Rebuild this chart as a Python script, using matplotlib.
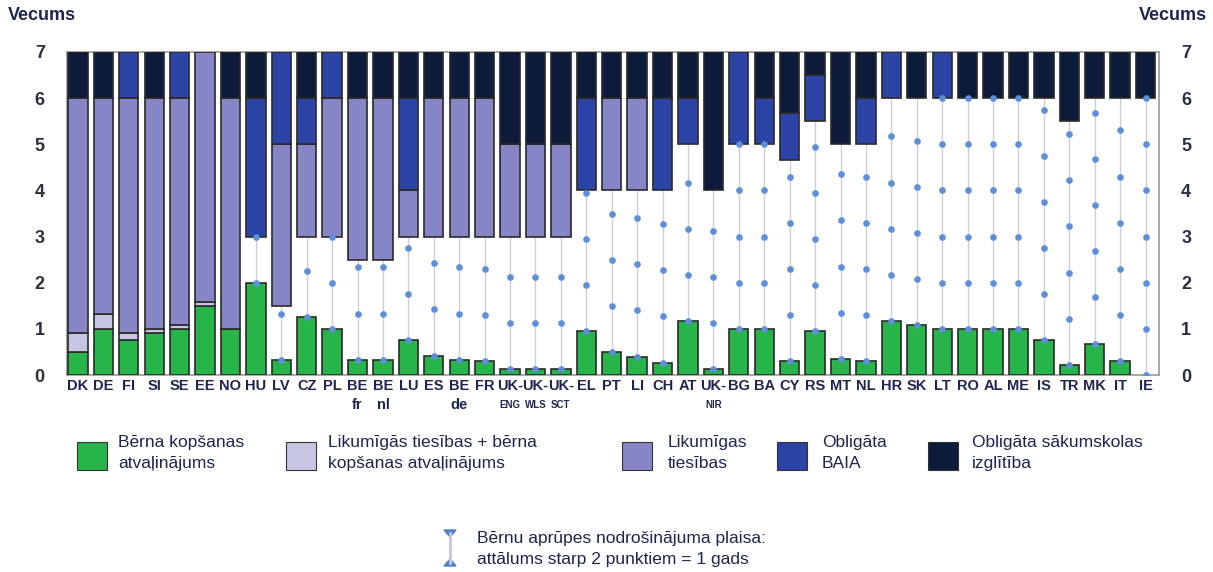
import matplotlib
matplotlib.use("Agg")
import matplotlib.pyplot as plt
from matplotlib.patches import Rectangle, Polygon
from matplotlib.lines import Line2D

# Data ------------------------------------------------------------------------
countries = ["DK", "DE", "FI", "SI", "SE", "EE", "NO", "HU", "LV", "CZ", "PL",
             "BE", "BE", "LU", "ES", "BE", "FR", "UK-", "UK-", "UK-", "EL", "PT",
             "LI", "CH", "AT", "UK-", "BG", "BA", "CY", "RS", "MT", "NL", "HR",
             "SK", "LT", "RO", "AL", "ME", "IS", "TR", "MK", "IT", "IE"]
sub_labels = ["", "", "", "", "", "", "", "", "", "", "",
              "fr", "nl", "", "", "de", "", "ENG", "WLS", "SCT", "", "",
              "", "", "", "NIR", "", "", "", "", "", "", "",
              "", "", "", "", "", "", "", "", "", ""]

# childcare leave (green), years from 0
leave = [0.5, 1.0, 0.75, 0.92, 1.0, 1.5, 1.0, 2.0, 0.33, 1.25, 1.0,
         0.33, 0.33, 0.75, 0.42, 0.33, 0.3, 0.12, 0.12, 0.12, 0.95, 0.5,
         0.4, 0.27, 1.17, 0.12, 1.0, 1.0, 0.3, 0.95, 0.35, 0.3, 1.17,
         1.08, 1.0, 1.0, 1.0, 1.0, 0.75, 0.22, 0.68, 0.3, 0.0]
# legal entitlement + childcare leave overlap ends here
overlap_top = [0.9, 1.33, 0.92, 1.0, 1.08, 1.58, 1.0, 2.0, 0.33, 1.25, 1.0,
               0.33, 0.33, 0.75, 0.42, 0.33, 0.3, 0.12, 0.12, 0.12, 0.95, 0.5,
               0.4, 0.27, 1.17, 0.12, 1.0, 1.0, 0.3, 0.95, 0.35, 0.3, 1.17,
               1.08, 1.0, 1.0, 1.0, 1.0, 0.75, 0.22, 0.68, 0.3, 0.0]
# legal entitlement (None = not present)
legal_lo = [0.9, 1.33, 0.92, 1.0, 1.08, 1.58, 1.0, None, 1.5, 3, 3,
            2.5, 2.5, 3, 3, 3, 3, 3, 3, 3, None, 4,
            4, None, None, None, None, None, None, None, None, None, None,
            None, None, None, None, None, None, None, None, None, None]
legal_hi = [6, 6, 6, 6, 6, 7, 6, None, 5, 5, 6,
            6, 6, 4, 6, 6, 6, 5, 5, 5, None, 6,
            6, None, None, None, None, None, None, None, None, None, None,
            None, None, None, None, None, None, None, None, None, None]
# compulsory ECEC (BAIA)
ecec_lo = [None, None, 6, None, 6, None, None, 3, 5, 5, 6,
           None, None, 4, None, None, None, None, None, None, 4, None,
           None, 4, 5, None, 5, 5, 4.67, 5.5, None, 5, 6,
           None, 6, None, None, None, None, None, None, None, None]
ecec_hi = [None, None, 7, None, 7, None, None, 6, 7, 6, 7,
           None, None, 6, None, None, None, None, None, None, 6, None,
           None, 6, 6, None, 7, 6, 5.67, 6.5, None, 6, 7,
           None, 7, None, None, None, None, None, None, None, None]
# compulsory primary education (up to 7)
prim_lo = [6, 6, None, 6, None, None, 6, 6, None, 6, None,
           6, 6, 6, 6, 6, 6, 5, 5, 5, 6, 6,
           6, 6, 6, 4, None, 6, 5.67, 6.5, 5, 6, None,
           6, None, 6, 6, 6, 6, 5.5, 6, 6, 6]

legend_labels = ["Bērna kopšanas\natvaļinājums",
                 "Likumīgās tiesības + bērna\nkopšanas atvaļinājums",
                 "Likumīgas\ntiesības",
                 "Obligāta\nBAIA",
                 "Obligāta sākumskolas\nizglītība"]
gap_label = "Bērnu aprūpes nodrošinājuma plaisa:\nattālums starp 2 punktiem = 1 gads"

# Styles ----------------------------------------------------------------------
c_green = "#27b54a"
c_light = "#c6c6e4"
c_legal = "#8686c6"
c_blue = "#2b44a6"
c_navy = "#0c1b3a"
c_edge = "#2a2a2a"
c_dot = "#5c8fd8"
c_text = "#1d2550"

plt.rcParams['font.family'] = ['Liberation Sans', 'DejaVu Sans']

fig = plt.figure(figsize=(12.13, 5.72), dpi=100)
W, H = 1213, 572
ax = fig.add_axes([67 / W, 1 - 375 / H, (1159 - 67) / W, (375 - 52) / H])

bw = 0.76
n = len(countries)
for i in range(n):
    # gap dots between leave and first entitlement, 1 year apart
    starts = [v for v in (legal_lo[i], ecec_lo[i], prim_lo[i]) if v is not None]
    gap_top = min(starts)
    if gap_top - overlap_top[i] > 0.05:
        ax.plot([i, i], [leave[i], gap_top], color="#cdcdda", lw=1, zorder=1)
        k = 0
        ys = []
        while leave[i] + k <= gap_top + 0.02:
            ys.append(leave[i] + k)
            k += 1
        ax.plot([i] * len(ys), ys, 'o', color=c_dot, ms=4.8, mec='none', zorder=4)

    segs = [(0, leave[i], c_green),
            (leave[i], overlap_top[i], c_light)]
    if legal_lo[i] is not None:
        segs.append((legal_lo[i], legal_hi[i], c_legal))
    if ecec_lo[i] is not None:
        segs.append((ecec_lo[i], ecec_hi[i], c_blue))
    if prim_lo[i] is not None:
        segs.append((prim_lo[i], 7, c_navy))
    for lo, hi, col in segs:
        if hi - lo > 0:
            ax.bar(i, hi - lo, bottom=lo, width=bw, color=col,
                   edgecolor=c_edge, linewidth=1.2, zorder=3)

ax.set_xlim(-0.43, n - 1 + 0.53)
ax.set_ylim(0, 7)
ax.set_xticks([])
ax.set_yticks(range(8))
ax.tick_params(axis='y', length=0, pad=16, labelsize=13, labelcolor="#2b2f3e")
for lab in ax.get_yticklabels():
    lab.set_fontweight('bold')
for sp in ax.spines.values():
    sp.set_color("#9a9a9a")
    sp.set_linewidth(1.2)

ax2 = ax.twinx()
ax2.set_ylim(0, 7)
ax2.set_yticks(range(8))
ax2.tick_params(axis='y', length=0, pad=16, labelsize=13, labelcolor="#2b2f3e")
for lab in ax2.get_yticklabels():
    lab.set_fontweight('bold')
for sp in ax2.spines.values():
    sp.set_visible(False)

trans = ax.get_xaxis_transform()
for i in range(n):
    ax.text(i, -0.012, countries[i], transform=trans, ha='center', va='top',
            fontsize=10.5, fontweight='bold', color=c_text)
    if sub_labels[i]:
        small = len(sub_labels[i]) == 3
        ax.text(i, -0.072 if not small else -0.078, sub_labels[i], transform=trans,
                ha='center', va='top', fontsize=7 if small else 10.5,
                fontweight='bold', color=c_text)

fig.text(8 / W, 1 - 16 / H, "Vecums", ha='left', va='center', fontsize=13,
         fontweight='bold', color=c_text)
fig.text(1207 / W, 1 - 16 / H, "Vecums", ha='right', va='center', fontsize=13,
         fontweight='bold', color=c_text)

# legend
leg_cols = [c_green, c_light, c_legal, c_blue, c_navy]
patch_x = [77, 286, 622, 777, 928]
text_x = [118, 328, 668, 822, 972]
for px, tx, col, lab in zip(patch_x, text_x, leg_cols, legend_labels):
    fig.add_artist(Rectangle((px / W, 1 - 470 / H), 30 / W, 28 / H,
                             transform=fig.transFigure, facecolor=col,
                             edgecolor="#333333", linewidth=0.8))
    fig.text(tx / W, 1 - 453 / H, lab, ha='left', va='center', fontsize=12.5,
             color=c_text, linespacing=1.45)

# gap legend icon
fig.add_artist(Line2D([450 / W, 450 / W], [1 - 533 / H, 1 - 563 / H],
                      transform=fig.transFigure, color=c_light, lw=2))
fig.add_artist(Polygon([[444 / W, 1 - 530 / H], [456 / W, 1 - 530 / H], [450 / W, 1 - 537 / H]],
                       closed=True, transform=fig.transFigure, color="#4f7fc8"))
fig.add_artist(Polygon([[444 / W, 1 - 566 / H], [456 / W, 1 - 566 / H], [450 / W, 1 - 559 / H]],
                       closed=True, transform=fig.transFigure, color="#4f7fc8"))
fig.text(477 / W, 1 - 549 / H, gap_label, ha='left', va='center', fontsize=12.5,
         color=c_text, linespacing=1.45)

fig.savefig("out.png", dpi=100)
